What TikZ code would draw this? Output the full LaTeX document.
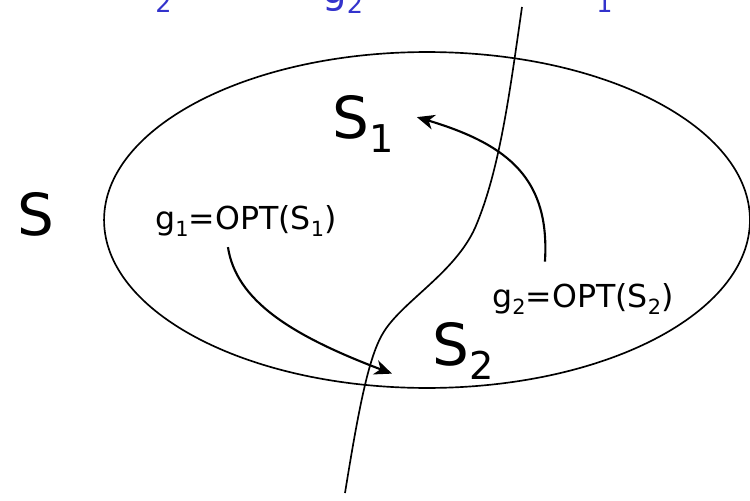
\documentclass[tikz,border=0pt]{standalone}
\usepackage{fontspec}
\setmainfont{DejaVu Sans}
\usepackage{xcolor}
\usetikzlibrary{arrows.meta, positioning}

\definecolor{titleblue}{RGB}{51,51,204}
\newcommand{\lowsub}[1]{\raisebox{-0.45ex}{\scalebox{0.66}{#1}}}

\begin{document}
\begin{tikzpicture}[x=0.02cm, y=-0.02cm]
	% Styles
	\tikzstyle{setname} = [font=\fontsize{33}{36}\selectfont, inner sep=0pt, anchor=base west]
	\tikzstyle{optlabel} = [font=\fontsize{18}{20}\selectfont, inner sep=0pt, anchor=base west]
	\tikzstyle{titlebit} = [font=\fontsize{22}{24}\selectfont, text=titleblue, inner sep=0pt, anchor=base west]
	\tikzstyle{border} = [line width=0.95pt]
	\tikzstyle{arrow} = [line width=1.2pt, -{Stealth[length=10pt, width=8.5pt, inset=3pt]}]

	\useasboundingbox (0,0) rectangle (750,500);

	% Title (cut off at the top)
	\begin{scope}
		\clip (0,0) rectangle (750,500);
		\node (t1) [titlebit] at (155,13) {\scalebox{0.66}{2}};
		\node (t2) [titlebit] at (322,4) {g\lowsub{2}};
		\node (t3) [titlebit] at (596,13) {\scalebox{0.66}{1}};
	\end{scope}

	% Set and cut
	\draw [border] (427,220) ellipse [x radius=6.46cm, y radius=3.36cm];
	\draw [border] (522,7) .. controls (510,90) and (500,170) .. (475,228)
		.. controls (455,272) and (405,300) .. (385,330)
		.. controls (370,352) and (360,400) .. (345,493);

	% Nodes
	\node (s) [setname] at (17,235) {S};
	\node (s1) [setname] at (332,138) {S\lowsub{1}};
	\node (s2) [setname] at (432,365) {S\lowsub{2}};
	\node (g1) [optlabel] at (155,229) {g\lowsub{1}=OPT(S\lowsub{1})};
	\node (g2) [optlabel] at (492,307) {g\lowsub{2}=OPT(S\lowsub{2})};

	% Connections
	\draw [arrow] ([xshift=-0.36cm, yshift=-0.2cm]g1.south) .. controls (236,300) and (290,335) .. ([xshift=-0.8cm, yshift=0.12cm]s2.south west);
	\draw [arrow] ([xshift=-0.76cm, yshift=0.42cm]g2.north) .. controls (550,180) and (510,145) .. ([xshift=0.46cm, yshift=0.13cm]s1.east);

\end{tikzpicture}
\end{document}
